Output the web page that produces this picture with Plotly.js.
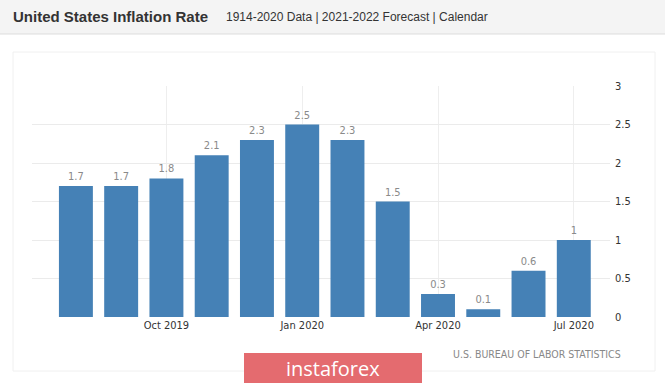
<!DOCTYPE html>
<html>
<head>
<meta charset="utf-8">
<script src="https://cdn.plot.ly/plotly-3.0.1.min.js"></script>
<style>
  html, body { margin: 0; padding: 0; background: #ffffff; }
  #chart { width: 665px; height: 384px; }
</style>
</head>
<body>
<div id="chart"></div>
<script>
// Data
var months = ['Aug 2019', 'Sep 2019', 'Oct 2019', 'Nov 2019', 'Dec 2019', 'Jan 2020',
              'Feb 2020', 'Mar 2020', 'Apr 2020', 'May 2020', 'Jun 2020', 'Jul 2020'];
var inflation = [1.7, 1.7, 1.8, 2.1, 2.3, 2.5, 2.3, 1.5, 0.3, 0.1, 0.6, 1];
var valueLabels = ['1.7', '1.7', '1.8', '2.1', '2.3', '2.5', '2.3', '1.5', '0.3', '0.1', '0.6', '1'];
var xTicks = ['Oct 2019', 'Jan 2020', 'Apr 2020', 'Jul 2020'];
var yTicks = [0, 0.5, 1, 1.5, 2, 2.5, 3];
var yTickText = ['0', '0.5', '1', '1.5', '2', '2.5', '3'];

// pixel -> paper helpers for decorations
var W = 665, H = 384, ML = 32, MR = 55, MT = 86, MB = 67;
var PW = W - ML - MR, PH = H - MT - MB;
function px(x) { return (x - ML) / PW; }
function py(y) { return (H - MB - y) / PH; }

var trace = {
  type: 'bar',
  x: months,
  y: inflation,
  text: valueLabels,
  textposition: 'outside',
  cliponaxis: false,
  textfont: { family: 'DejaVu Sans Condensed, DejaVu Sans, sans-serif', size: 11, color: '#8a8a8a' },
  marker: { color: '#4581b6' },
  hoverinfo: 'x+y'
};

var layout = {
  width: W, height: H,
  margin: { l: ML, r: MR, t: MT, b: MB, pad: 0 },
  paper_bgcolor: '#ffffff',
  plot_bgcolor: '#ffffff',
  showlegend: false,
  bargap: 0.25,
  title: {
    text: '<b>United States Inflation Rate</b>',
    font: { family: 'Liberation Sans, Arial, sans-serif', size: 15, color: '#333333' },
    xref: 'container', yref: 'container',
    x: 13 / W, xanchor: 'left',
    y: 1 - 17 / H, yanchor: 'middle'
  },
  xaxis: {
    type: 'category',
    range: [-0.97, 11.8],
    tickmode: 'array',
    tickvals: xTicks,
    ticktext: xTicks,
    showgrid: true,
    gridcolor: '#eeeeee',
    gridwidth: 1,
    showline: false,
    zeroline: false,
    ticks: '',
    tickfont: { family: 'DejaVu Sans Condensed, DejaVu Sans, sans-serif', size: 11, color: '#333333' },
    fixedrange: true
  },
  yaxis: {
    side: 'right',
    range: [0, 3],
    tickmode: 'array',
    tickvals: yTicks,
    ticktext: yTickText,
    showgrid: true,
    gridcolor: '#ebebeb',
    gridwidth: 1,
    zeroline: false,
    showline: false,
    ticks: '',
    ticklabelstandoff: 4,
    tickfont: { family: 'DejaVu Sans Condensed, DejaVu Sans, sans-serif', size: 11, color: '#333333' },
    fixedrange: true
  },
  shapes: [
    // header band
    { type: 'rect', xref: 'paper', yref: 'paper', layer: 'below',
      x0: px(0), x1: px(W), y0: py(34), y1: py(0),
      fillcolor: '#f4f4f4', line: { width: 0 } },
    { type: 'line', xref: 'paper', yref: 'paper', layer: 'below',
      x0: px(0), x1: px(W), y0: py(34), y1: py(34),
      line: { color: '#dddddd', width: 1 } },
    // card border
    { type: 'rect', xref: 'paper', yref: 'paper', layer: 'below',
      x0: px(13), x1: px(655), y0: py(371), y1: py(52),
      fillcolor: 'rgba(0,0,0,0)', line: { color: '#f0f0f0', width: 1 } },
    // logo box
    { type: 'rect', xref: 'paper', yref: 'paper', layer: 'above',
      x0: px(244), x1: px(422), y0: py(383), y1: py(353),
      fillcolor: '#e46b6f', line: { width: 0 } }
  ],
  annotations: [
    { text: '1914-2020 Data | 2021-2022 Forecast | Calendar',
      xref: 'paper', yref: 'paper', x: px(224), y: py(17),
      xanchor: 'left', yanchor: 'middle', showarrow: false,
      font: { family: 'Liberation Sans, Arial, sans-serif', size: 12, color: '#333333' } },
    { text: 'U.S. BUREAU OF LABOR STATISTICS',
      xref: 'paper', yref: 'paper', x: px(623), y: py(354),
      xanchor: 'right', yanchor: 'middle', showarrow: false,
      font: { family: 'DejaVu Sans Condensed, DejaVu Sans, sans-serif', size: 10.5, color: '#888888' } },
    { text: 'instaforex',
      xref: 'paper', yref: 'paper', x: px(333), y: py(368),
      xanchor: 'center', yanchor: 'middle', showarrow: false,
      font: { family: 'Open Sans, sans-serif', size: 20, color: '#ffffff' } }
  ]
};

Plotly.newPlot('chart', [trace], layout, { displayModeBar: false, staticPlot: true });
</script>
</body>
</html>
